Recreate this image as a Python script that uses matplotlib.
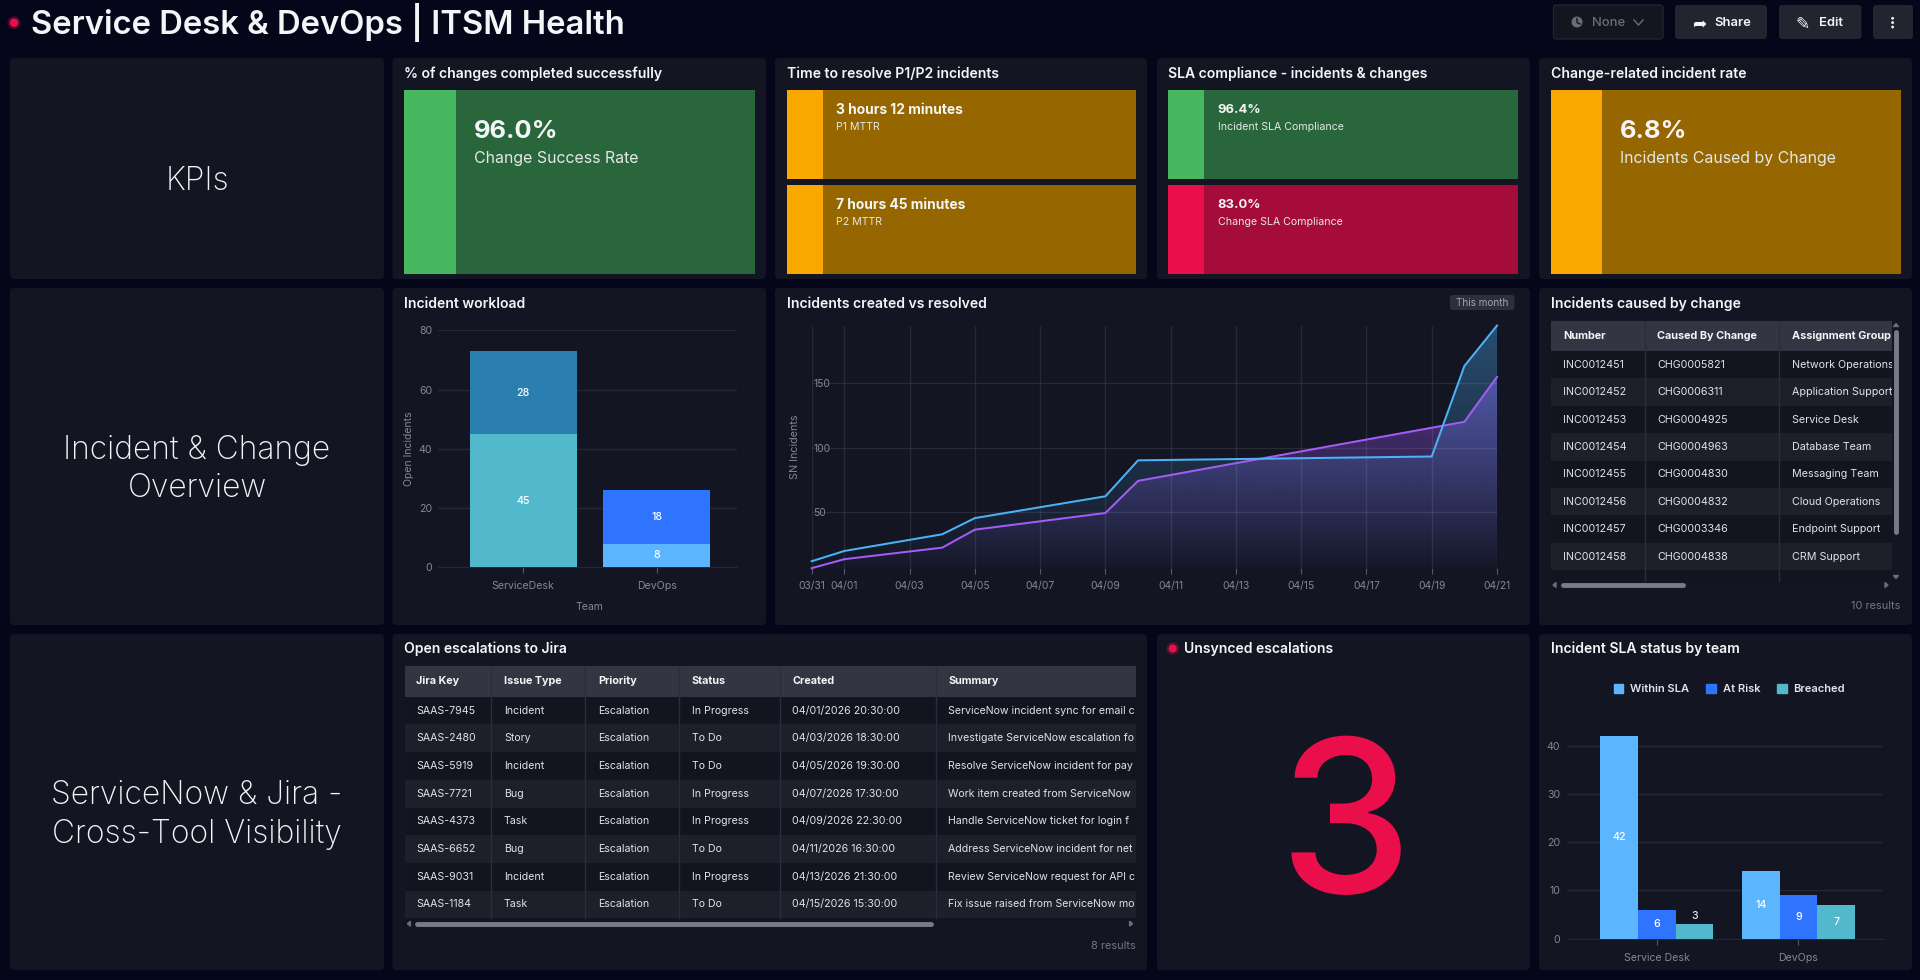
import matplotlib
matplotlib.use("Agg")
import matplotlib.pyplot as plt
import numpy as np
from matplotlib.patches import FancyBboxPatch, Rectangle, Circle, Patch
from matplotlib.transforms import Bbox

plt.rcParams['font.family'] = ['Inter', 'DejaVu Sans']

# ---------- data ----------
page_title = "Service Desk & DevOps | ITSM Health"
section_titles = ["KPIs", "Incident & Change\nOverview", "ServiceNow & Jira -\nCross-Tool Visibility"]

workload_teams = ["ServiceDesk", "DevOps"]
workload_lower = [45, 8]
workload_upper = [28, 18]
workload_y_ticks = [0, 20, 40, 60, 80]

trend_tick_days = [0, 1, 3, 5, 7, 9, 11, 13, 15, 17, 19, 21]
trend_tick_labels = ["03/31", "04/01", "04/03", "04/05", "04/07", "04/09",
                     "04/11", "04/13", "04/15", "04/17", "04/19", "04/21"]
trend_y_ticks = [50, 100, 150]
created_days = [0, 1, 4, 5, 9, 10, 19, 20, 21]
created_vals = [11.4, 19.4, 32.4, 45, 62, 90, 93, 163.5, 195]
resolved_days = [0, 1, 4, 5, 9, 10, 20, 21]
resolved_vals = [6, 13, 22, 36, 49, 74, 120, 155]

change_cols = ["Number", "Caused By Change", "Assignment Group"]
change_numbers = ["INC0012451", "INC0012452", "INC0012453", "INC0012454",
                  "INC0012455", "INC0012456", "INC0012457", "INC0012458"]
change_ids = ["CHG0005821", "CHG0006311", "CHG0004925", "CHG0004963",
              "CHG0004830", "CHG0004832", "CHG0003346", "CHG0004838"]
change_groups = ["Network Operations", "Application Support", "Service Desk", "Database Team",
                 "Messaging Team", "Cloud Operations", "Endpoint Support", "CRM Support"]

jira_cols = ["Jira Key", "Issue Type", "Priority", "Status", "Created", "Summary"]
jira_keys = ["SAAS-7945", "SAAS-2480", "SAAS-5919", "SAAS-7721",
             "SAAS-4373", "SAAS-6652", "SAAS-9031", "SAAS-1184"]
jira_types = ["Incident", "Story", "Incident", "Bug", "Task", "Bug", "Incident", "Task"]
jira_priority = ["Escalation"] * 8
jira_status = ["In Progress", "To Do", "To Do", "In Progress",
               "In Progress", "To Do", "In Progress", "To Do"]
jira_created = ["04/01/2026 20:30:00", "04/03/2026 18:30:00", "04/05/2026 19:30:00",
                "04/07/2026 17:30:00", "04/09/2026 22:30:00", "04/11/2026 16:30:00",
                "04/13/2026 21:30:00", "04/15/2026 15:30:00"]
jira_summary = ["ServiceNow incident sync for email c", "Investigate ServiceNow escalation fo",
                "Resolve ServiceNow incident for pay", "Work item created from ServiceNow",
                "Handle ServiceNow ticket for login f", "Address ServiceNow incident for net",
                "Review ServiceNow request for API c", "Fix issue raised from ServiceNow mo"]

sla_teams = ["Service Desk", "DevOps"]
sla_within = [42, 14]
sla_risk = [6, 9]
sla_breached = [3, 7]
sla_y_ticks = [0, 10, 20, 30, 40]
unsynced = "3"

# ---------- palette ----------
BG = "#05061a"; PANEL = "#131522"; GRID = "#262734"; TICK = "#85879a"
WHITE = "#f4f5f7"; CELL = "#e2e3e8"
GREEN, GREEN_D = "#47b85f", "#2a663c"
AMBER, AMBER_D = "#f8a800", "#966700"
RED, RED_D = "#ea0f4b", "#a60c3a"
SKY, BLUE, TEAL, STEEL = "#5bb5ff", "#2e74ff", "#52b8cc", "#2a7fb0"
LINE_BLUE, LINE_PURPLE = "#4db2f5", "#a45cf5"
HEAD = "#343542"; ROW_A = "#13141f"; ROW_B = "#1e1f2b"

W, H = 1920, 980
fig = plt.figure(figsize=(W / 100, H / 100), dpi=100, facecolor=BG)
ov = fig.add_axes([0, 0, 1, 1], zorder=0)
ov.set_xlim(0, W); ov.set_ylim(H, 0); ov.axis("off")


def T(x, y, s, px, color=WHITE, ha="left", weight="normal", va="center_baseline", clip=None, **kw):
    t = ov.text(x, y, s, fontsize=px * 0.72, color=color, ha=ha, va=va, weight=weight, **kw)
    if clip is not None:
        x0, y0, x1, y1 = clip
        t.set_clip_box(Bbox.from_extents(x0, H - y1, x1, H - y0))
        t.set_clip_on(True)
    return t


def box(x0, y0, x1, y1, color, r=0.0, ec="none", z=1, lw=0):
    if r:
        p = FancyBboxPatch((x0, y0), x1 - x0, y1 - y0, boxstyle=f"round,pad=0,rounding_size={r}",
                           fc=color, ec=ec, lw=lw, zorder=z)
    else:
        p = Rectangle((x0, y0), x1 - x0, y1 - y0, fc=color, ec=ec, lw=lw, zorder=z)
    ov.add_patch(p)
    return p


def axes_px(x0, y0, x1, y1):
    a = fig.add_axes([x0 / W, 1 - y1 / H, (x1 - x0) / W, (y1 - y0) / H], zorder=2)
    a.patch.set_alpha(0)
    for s in a.spines.values():
        s.set_visible(False)
    return a


# ---------- panels ----------
cols_x = [(10, 384), (392.5, 766), (775, 1147), (1157, 1530), (1539, 1912)]
R1, R2, R3 = (58, 279), (288, 625), (634, 970)
for c in cols_x:
    box(c[0], R1[0], c[1], R1[1], PANEL, 4)
box(*[cols_x[0][0], R2[0], cols_x[0][1], R2[1]], PANEL, 4)
box(cols_x[1][0], R2[0], cols_x[1][1], R2[1], PANEL, 4)
box(cols_x[2][0], R2[0], cols_x[3][1], R2[1], PANEL, 4)
box(cols_x[4][0], R2[0], cols_x[4][1], R2[1], PANEL, 4)
box(cols_x[0][0], R3[0], cols_x[0][1], R3[1], PANEL, 4)
box(cols_x[1][0], R3[0], cols_x[2][1], R3[1], PANEL, 4)
box(cols_x[3][0], R3[0], cols_x[3][1], R3[1], PANEL, 4)
box(cols_x[4][0], R3[0], cols_x[4][1], R3[1], PANEL, 4)

# ---------- header ----------
ov.add_patch(Circle((14, 22.7), 6.5, fc=RED, alpha=0.3, ec="none", zorder=2))
ov.add_patch(Circle((14, 22.7), 4.2, fc=RED, ec="none", zorder=3))
T(31, 23, page_title, 32.8, weight="semibold", va="center")

box(1553.5, 5, 1663, 39, "#14151f", 3, ec="#23242f", lw=1)
ov.add_patch(Circle((1577, 22), 5.5, fc="#6b6c78", ec="none", zorder=3))
ov.plot([1577, 1577, 1580], [18.5, 22.5, 24], color="#14151f", lw=1, zorder=4)
T(1592, 22, "None", 13, color="#6b6c78", weight="medium")
ov.plot([1634, 1638.5, 1643], [20, 25, 20], color="#6b6c78", lw=1, zorder=3)
for x0, x1, label, tx, icon, ix in [(1675, 1767, "Share", 1714, "\u27a6", 1699),
                                    (1779, 1861.5, "Edit", 1818.5, "\u270e", 1803)]:
    box(x0, 5, x1, 39, "#23242f", 3)
    T(tx, 22, label, 13, weight="semibold")
    T(ix, 22, icon, 17, ha="center", family="DejaVu Sans")
box(1873, 5, 1913, 39, "#23242f", 3)
for yy in (18.3, 22.6, 27):
    ov.add_patch(Circle((1892.6, yy), 1.4, fc=WHITE, ec="none", zorder=3))

# ---------- section titles ----------
T(197, 178, section_titles[0], 31.8, ha="center", weight="light")
for i, (txt, ys) in enumerate([(section_titles[1], (447, 485)), (section_titles[2], (792, 831))]):
    for line, yy in zip(txt.split("\n"), ys):
        T(197, yy, line, 31.8, ha="center", weight="light")

# ---------- panel titles ----------
def ptitle(x, y, s):
    T(x, y - 1, s, 14.0, weight="semibold")

ptitle(404, 73, "% of changes completed successfully")
ptitle(787, 73, "Time to resolve P1/P2 incidents")
ptitle(1168, 73, "SLA compliance - incidents & changes")
ptitle(1551, 73, "Change-related incident rate")
ptitle(404, 303, "Incident workload")
ptitle(787, 303, "Incidents created vs resolved")
ptitle(1551, 303, "Incidents caused by change")
ptitle(404, 648.5, "Open escalations to Jira")
ptitle(1183.5, 648.5, "Unsynced escalations")
ptitle(1551, 648.5, "Incident SLA status by team")

# ---------- KPI tiles ----------
def tile(x0, x1, bar, y0, y1, c, d, value, label, big):
    box(x0, y0, x1, y1, d, 0, z=2)
    box(x0, y0, bar, y1, c, 0, z=3)
    if big:
        T(bar + 18, y0 + 38.8, value, 25.5, weight="bold", zorder=4)
        T(bar + 18, y0 + 67.2, label, 15.9, color="#e4e8e6", zorder=4)
    else:
        size = 13.8 if "hours" in value else 13
        T(bar + 13.5, y0 + 18.2, value, size, weight="bold", zorder=4)
        T(bar + 13.5, y0 + 35.8, label, 10.6, color="#e4e8e6", zorder=4)

tile(404, 754.5, 455.5, 90, 274, GREEN, GREEN_D, "96.0%", "Change Success Rate", True)
tile(787, 1135.7, 822.5, 90, 179, AMBER, AMBER_D, "3 hours 12 minutes", "P1 MTTR", False)
tile(787, 1135.7, 822.5, 185, 274, AMBER, AMBER_D, "7 hours 45 minutes", "P2 MTTR", False)
tile(1168, 1518, 1204, 90, 179, GREEN, GREEN_D, "96.4%", "Incident SLA Compliance", False)
tile(1168, 1518, 1204, 185, 274, RED, RED_D, "83.0%", "Change SLA Compliance", False)
tile(1551, 1900.5, 1602, 90, 274, AMBER, AMBER_D, "6.8%", "Incidents Caused by Change", True)

# ---------- incident workload ----------
a1 = axes_px(437.7, 330.3, 736.7, 567.3)
x1 = np.arange(len(workload_teams))
a1.bar(x1, workload_lower, 0.8, color=[TEAL, SKY], zorder=3)
a1.bar(x1, workload_upper, 0.8, bottom=workload_lower, color=[STEEL, BLUE], zorder=3)
a1.set_xlim(-0.638, 1.598); a1.set_ylim(0, 80)
a1.set_yticks(workload_y_ticks)
a1.set_xticks(x1, workload_teams)
a1.grid(axis="y", color=GRID, lw=1, zorder=0)
a1.set_axisbelow(True)
a1.tick_params(axis="y", length=0, colors=TICK, labelsize=7.6, pad=4)
a1.tick_params(axis="x", length=4, color="#555766", labelcolor=TICK, labelsize=7.6, pad=6)
a1.spines["bottom"].set_visible(True); a1.spines["bottom"].set_color(GRID)
for i in x1:
    a1.text(i, workload_lower[i] / 2, str(workload_lower[i]), color="white", fontsize=7.6,
            ha="center", va="center", weight="medium", zorder=4)
    a1.text(i, workload_lower[i] + workload_upper[i] / 2, str(workload_upper[i]), color="white",
            fontsize=7.6, ha="center", va="center", weight="medium", zorder=4)
T(409.5, 449, "Open Incidents", 10.5, color=TICK, ha="center", rotation=90, va="center")
T(589.5, 606, "Team", 10.5, color=TICK, ha="center")

# ---------- created vs resolved ----------
a2 = axes_px(811.7, 325.7, 1497, 568.3)
YLO, YHI = 5.9, 194.9
a2.set_xlim(0, 21); a2.set_ylim(YLO, YHI)
poly_p = a2.fill_between(resolved_days, resolved_vals, 0, color="none")
poly_b = a2.fill_between(created_days, created_vals, 0, color="none")
for poly, rgb, top, z in [(poly_p, (160, 90, 255), 0.54, 1), (poly_b, (80, 180, 255), 0.36, 1.5)]:
    g = np.zeros((256, 1, 4))
    g[..., 0], g[..., 1], g[..., 2] = rgb[0] / 255, rgb[1] / 255, rgb[2] / 255
    g[:, 0, 3] = np.linspace(top, 0.0, 256)
    im = a2.imshow(g, extent=(0, 21, 0, YHI), aspect="auto", origin="upper", zorder=z)
    im.set_clip_path(poly.get_paths()[0], transform=a2.transData)
    im.set_clip_box(fig.bbox)
a2.set_xlim(0, 21); a2.set_ylim(YLO, YHI)
a2.plot(resolved_days, resolved_vals, color=LINE_PURPLE, lw=1.45, zorder=4, clip_on=False)
a2.plot(created_days, created_vals, color=LINE_BLUE, lw=1.45, zorder=4, clip_on=False)
a2.set_xticks(trend_tick_days, trend_tick_labels)
a2.set_yticks(trend_y_ticks, [str(v) for v in trend_y_ticks])
a2.grid(True, color="white", alpha=0.085, lw=1)
a2.set_axisbelow(False)
for gl in a2.get_xgridlines() + a2.get_ygridlines():
    gl.set_zorder(2)
a2.tick_params(axis="x", length=4, color="#555766", labelcolor=TICK, labelsize=7.4, pad=5)
a2.tick_params(axis="y", length=0, labelcolor=TICK, labelsize=7.4, pad=-1)
for lb in a2.get_yticklabels():
    lb.set_ha("left")
box(1450, 295, 1514.5, 310, "#2d2e3e", 2.5, z=3)
T(1482.2, 302, "This month", 10, color="#a4a5b0", ha="center", zorder=4)
T(794.5, 446.7, "SN Incidents", 10.8, color=TICK, ha="center", rotation=90, va="center")

# ---------- tables ----------
def scrollbar_h(y, x0, x1, al, ar):
    ov.plot([x0 + 2, x1 - 2], [y, y], color="#7a7b87", lw=3.5, solid_capstyle="round", zorder=4)
    ov.fill([al + 2, al + 2, al - 1], [y - 2.5, y + 2.5, y], color="#6b6c78", zorder=4)
    ov.fill([ar - 2, ar - 2, ar + 1], [y - 2.5, y + 2.5, y], color="#6b6c78", zorder=4)


def table(x0, x1, ytop, yhead, rowh, nrows, ybot, dividers, text_x, cols, columns, body_px):
    box(x0, ytop, x1, yhead, HEAD, 0, z=2)
    clip = (x0, ytop, x1, ybot)
    for i in range(nrows + 1):
        ya = yhead + i * rowh
        yb = min(ya + rowh, ybot)
        if ya < ybot:
            box(x0, ya, x1, yb, ROW_B if i % 2 else ROW_A, 0, z=2)
    for d in dividers:
        ov.plot([d, d], [ytop, ybot], color="#2c2d3a", lw=1, zorder=3)
    for tx, head in zip(text_x, cols):
        T(tx, (ytop + yhead) / 2 - 1, head, body_px + 0.2, weight="bold", clip=clip, zorder=4)
    for tx, col in zip(text_x, columns):
        for i, v in enumerate(col):
            T(tx, yhead + (i + 0.5) * rowh - 1, v, body_px, color=CELL, clip=clip, zorder=4)


table(1551, 1892, 321, 351, 27.4, 8, 581, [1645, 1779], [1563.3, 1657.3, 1792], change_cols,
      [change_numbers, change_ids, change_groups], 10.7)
ov.plot([1896, 1896], [332, 532], color="#7a7b87", lw=3.5, solid_capstyle="round", zorder=4)
ov.fill([1893.5, 1898.5, 1896], [326.5, 326.5, 323.5], color="#6b6c78", zorder=4)
ov.fill([1893.5, 1898.5, 1896], [575.5, 575.5, 578.5], color="#6b6c78", zorder=4)
scrollbar_h(585, 1561, 1685, 1554, 1887)
T(1900, 605, "10 results", 11, color="#757684", ha="right")

table(404.5, 1136, 666, 696.7, 27.7, 7, 918, [490.8, 585.3, 679.4, 780.2, 936.3],
      [416, 504, 598, 691.5, 792.3, 948.4], jira_cols,
      [jira_keys, jira_types, jira_priority, jira_status, jira_created, jira_summary], 10.6)
scrollbar_h(923.7, 415, 933, 408.4, 1131.6)
T(1136, 944.5, "8 results", 11, color="#757684", ha="right")

# ---------- unsynced ----------
ov.add_patch(Circle((1172.7, 648.5), 6.3, fc=RED, alpha=0.3, ec="none", zorder=2))
ov.add_patch(Circle((1172.7, 648.5), 4, fc=RED, ec="none", zorder=3))
T(1345, 815, unsynced, 213, color=RED, ha="center", weight="medium", va="center_baseline")

# ---------- SLA by team ----------
a3 = axes_px(1567.3, 736, 1883, 938.7)
x3 = np.arange(len(sla_teams))
bw = 0.266
b1 = a3.bar(x3 - bw, sla_within, bw, color=SKY, zorder=3, label="Within SLA")
b2 = a3.bar(x3, sla_risk, bw, color=BLUE, zorder=3, label="At Risk")
b3 = a3.bar(x3 + bw, sla_breached, bw, color=TEAL, zorder=3, label="Breached")
a3.set_xlim(-0.631, 1.597); a3.set_ylim(0, 42)
a3.set_yticks(sla_y_ticks)
a3.set_xticks(x3, sla_teams)
a3.grid(axis="y", color=GRID, lw=1, zorder=0)
a3.set_axisbelow(True)
a3.tick_params(axis="y", length=0, colors=TICK, labelsize=7.6, pad=5)
a3.tick_params(axis="x", length=4, color="#555766", labelcolor=TICK, labelsize=7.6, pad=6)
a3.spines["bottom"].set_visible(True); a3.spines["bottom"].set_color(GRID)
for bars, vals in [(b1, sla_within), (b2, sla_risk), (b3, sla_breached)]:
    for r, v in zip(bars, vals):
        cx = r.get_x() + r.get_width() / 2
        if v <= 3:
            a3.text(cx, v + 1.8, str(v), color="#e6e6ea", fontsize=7.6, ha="center", va="center",
                    weight="medium", zorder=4)
        else:
            a3.text(cx, v / 2, str(v), color="white", fontsize=7.6, ha="center", va="center",
                    weight="medium", zorder=4)
fig.legend(handles=[Patch(color=SKY, label="Within SLA"), Patch(color=BLUE, label="At Risk"),
                    Patch(color=TEAL, label="Breached")],
           ncols=3, loc="center left", bbox_to_anchor=(1604 / W, 1 - 689 / H), frameon=False,
           labelcolor="#e2e3e8", handlelength=0.85, handleheight=0.85,
           handletextpad=0.6, columnspacing=1.55, prop={"weight": "semibold", "size": 8})

fig.savefig("out.png", dpi=100, facecolor=BG)
